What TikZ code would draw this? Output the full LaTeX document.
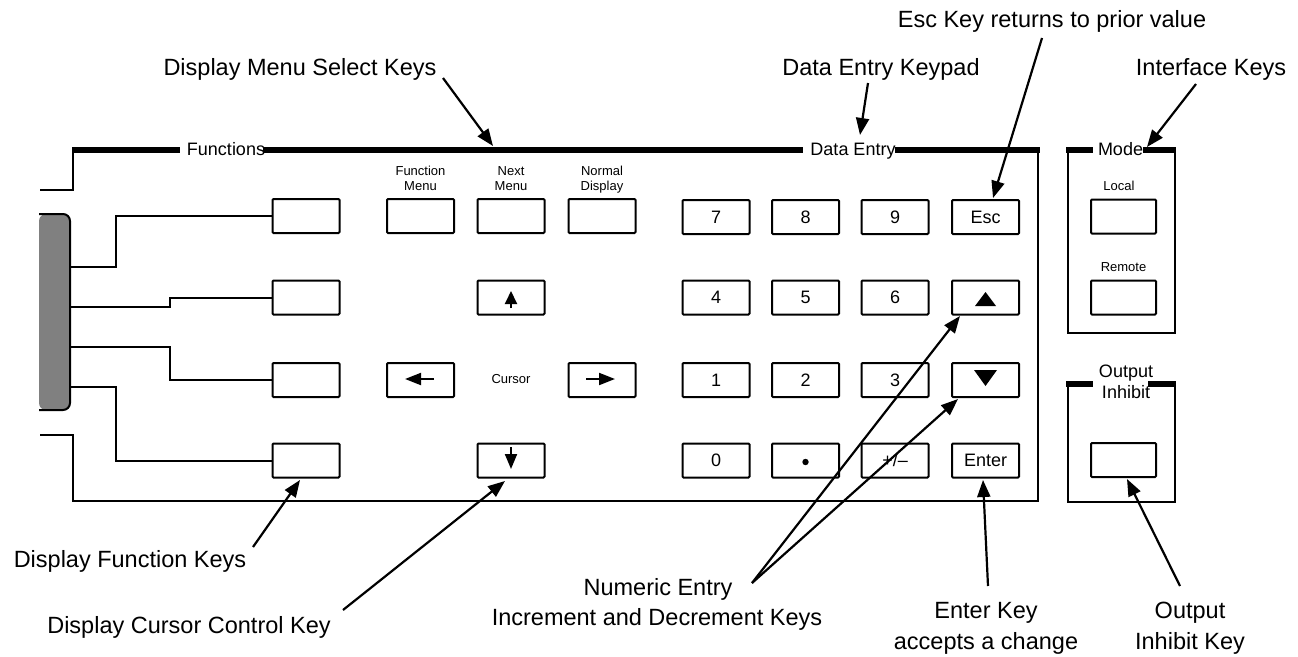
\documentclass[tikz,border=0pt]{standalone}
\usepackage{fontspec}
\setmainfont{Liberation Sans}
\usetikzlibrary{arrows.meta}
\definecolor{dispgray}{HTML}{808080}
\begin{document}
\begin{tikzpicture}[x=1pt,y=-1pt,
  key/.style={draw, line width=2pt, fill=white, minimum width=67pt, minimum height=34pt, inner sep=0pt, rounded corners=1pt, font=\fontsize{18}{20}\selectfont},
  smallkey/.style={key, minimum width=65pt},
  thinline/.style={line width=2pt},
  thickbar/.style={line width=6pt},
  panellabel/.style={inner sep=0pt, anchor=base, font=\fontsize{18}{20}\selectfont},
  keylabel/.style={inner sep=0pt, anchor=base, font=\fontsize{13}{15}\selectfont},
  annot/.style={inner sep=0pt, anchor=base, font=\fontsize{23.5}{28}\selectfont},
  annarrow/.style={line width=2.2pt, -{Triangle[length=17pt,width=13pt]}},
  keyarrow/.style={line width=2pt, -{Triangle[length=13pt,width=12pt]}}
]
\useasboundingbox (0,0) rectangle (1298,656);

% display
\fill[dispgray, rounded corners=7pt] (39,214) -- (70,214) -- (70,410) -- (39,410) -- cycle;
\draw[thinline, rounded corners=7pt] (39,214) -- (70,214) -- (70,410) -- (39,410);
\coordinate (d1) at (70,267);
\coordinate (d2) at (70,307);
\coordinate (d3) at (70,347);
\coordinate (d4) at (70,387);

% main frame
\draw[thinline] (40,190) -- (73,190) -- (73,150);
\draw[thinline] (40,435) -- (73,435) -- (73,501) -- (1038,501) -- (1038,150);
\node[panellabel] (lblfun) at (226,155) {Functions};
\node[panellabel] (lblde) at (853,155) {Data Entry};
\draw[thickbar] (72,150) -- (180,150);
\draw[thickbar] (263,150) -- (803,150);
\draw[thickbar] (895,150) -- (1040,150);

% function keys
\node[key] (f1) at (306,216) {};
\node[key] (f2) at (306,297.5) {};
\node[key] (f3) at (306,380) {};
\node[key] (f4) at (306,460.5) {};
\draw[thinline] (d1) -- (116,267) |- (f1.west);
\draw[thinline] (d2) -- (170,307) |- (f2.west);
\draw[thinline] (d3) -- (170,347) |- (f3.west);
\draw[thinline] (d4) -- (116,387) |- (f4.west);

% menu keys
\node[key] (fm) at (420.5,216) {};
\node[key] (nm) at (511,216) {};
\node[key] (nd) at (602,216) {};
\node[keylabel] (fmt1) at (420.5,175) {Function};
\node[keylabel] (fmt2) at (420.5,190) {Menu};
\node[keylabel] (nmt1) at (511,175) {Next};
\node[keylabel] (nmt2) at (511,190) {Menu};
\node[keylabel] (ndt1) at (602,175) {Normal};
\node[keylabel] (ndt2) at (602,190) {Display};

% cursor keys
\node[key] (cu) at (511,297.5) {};
\node[key] (cl) at (420.5,380) {};
\node[key] (cr) at (602,380) {};
\node[key] (cd) at (511,460.5) {};
\node[keylabel] (curs) at (511,383) {Cursor};
\draw[keyarrow] (511,308) -- (511,291);
\draw[keyarrow, -{Triangle[length=16pt,width=12pt]}] (434,379) -- (405,379);
\draw[keyarrow, -{Triangle[length=16pt,width=12pt]}] (586,379) -- (615,379);
\draw[keyarrow, -{Triangle[length=15pt,width=12pt]}] (511,447) -- (511,469);

% numeric keypad
\node[key] (k7) at (716,217) {7};
\node[key] (k8) at (805.5,217) {8};
\node[key] (k9) at (895,217) {9};
\node[key] (kesc) at (985.5,217) {Esc};
\node[key] (k4) at (716,297.5) {4};
\node[key] (k5) at (805.5,297.5) {5};
\node[key] (k6) at (895,297.5) {6};
\node[key] (kup) at (985.5,297.5) {};
\node[key] (k1) at (716,380) {1};
\node[key] (k2) at (805.5,380) {2};
\node[key] (k3) at (895,380) {3};
\node[key] (kdn) at (985.5,380) {};
\node[key] (k0) at (716,460.5) {0};
\node[key] (kdot) at (805.5,460.5) {};
\node[key] (kpm) at (895,460.5) {+/–};
\node[key] (kent) at (985.5,460.5) {Enter};
\fill (975,306) -- (996,306) -- (985.5,292) -- cycle;
\fill (974,370) -- (997,370) -- (985.5,386) -- cycle;
\fill (kdot.center) ++(0,1.5) circle (3.2pt);

% mode panel
\node[panellabel] (lblmode) at (1120.5,155) {Mode};
\draw[thickbar] (1066,150) -- (1093,150);
\draw[thickbar] (1143,150) -- (1176,150);
\draw[thinline] (1068,150) -- (1068,333) -- (1175,333) -- (1175,150);
\node[smallkey] (loc) at (1123.5,216.5) {};
\node[smallkey] (rem) at (1123.5,297.5) {};
\node[keylabel] (loct) at (1119,190) {Local};
\node[keylabel] (remt) at (1123.5,271) {Remote};

% output inhibit panel
\node[panellabel] (lbloi1) at (1126,377) {Output};
\node[panellabel] (lbloi2) at (1126,398) {Inhibit};
\draw[thickbar] (1066,384) -- (1093,384);
\draw[thickbar] (1148,384) -- (1176,384);
\draw[thinline] (1068,384) -- (1068,502) -- (1175,502) -- (1175,384);
\node[smallkey] (oik) at (1123.5,460) {};

% annotations
\node[annot] (aesc) at (1052,27) {Esc Key returns to prior value};
\node[annot] (amenu) at (300,75) {Display Menu Select Keys};
\node[annot] (akeypad) at (881,75) {Data Entry Keypad};
\node[annot] (aif) at (1211,75) {Interface Keys};
\node[annot] (afunc) at (130,567) {Display Function Keys};
\node[annot] (acurs) at (189,633) {Display Cursor Control Key};
\node[annot] (anum1) at (658,595) {Numeric Entry};
\node[annot] (anum2) at (657,625) {Increment and Decrement Keys};
\node[annot] (aent1) at (986,618) {Enter Key};
\node[annot] (aent2) at (986,649) {accepts a change};
\node[annot] (aoi1) at (1190,618) {Output};
\node[annot] (aoi2) at (1190,649) {Inhibit Key};

\coordinate (s1) at (443,78);  \coordinate (t1) at (493,146);
\coordinate (s2) at (868,83);  \coordinate (t2) at (860,135);
\coordinate (s3) at (1042,38); \coordinate (t3) at (993,198);
\coordinate (s4) at (1196,84); \coordinate (t4) at (1147,147);
\coordinate (s5) at (253,547); \coordinate (t5) at (300,480);
\coordinate (s6) at (343,610); \coordinate (t6) at (505,481);
\coordinate (s7) at (752,583); \coordinate (t7a) at (960,316); \coordinate (t7b) at (958,399);
\coordinate (s8) at (988,586); \coordinate (t8) at (983,480);
\coordinate (s9) at (1180,586); \coordinate (t9) at (1127,479);
\draw[annarrow] (s1) -- (t1);
\draw[annarrow] (s2) -- (t2);
\draw[annarrow] (s3) -- (t3);
\draw[annarrow] (s4) -- (t4);
\draw[annarrow] (s5) -- (t5);
\draw[annarrow] (s6) -- (t6);
\draw[annarrow] (s7) -- (t7a);
\draw[annarrow] (s7) -- (t7b);
\draw[annarrow] (s8) -- (t8);
\draw[annarrow] (s9) -- (t9);
\end{tikzpicture}
\end{document}
